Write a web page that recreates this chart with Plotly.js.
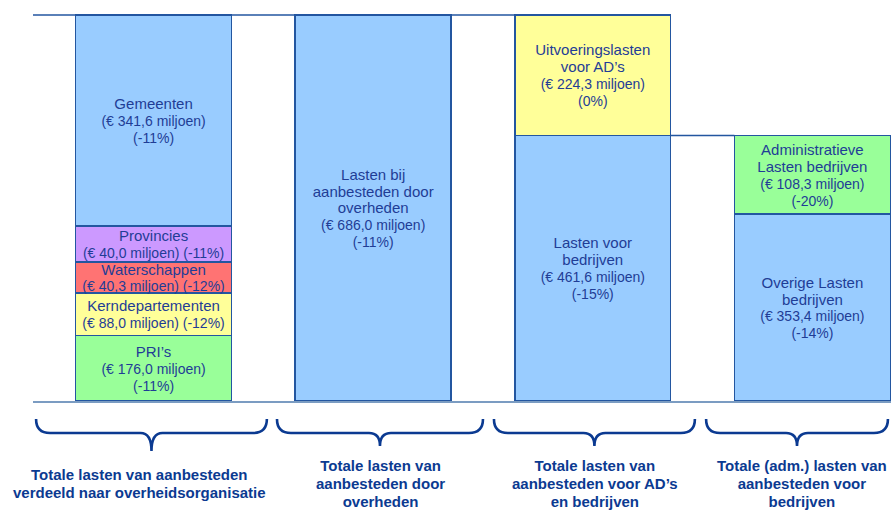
<!DOCTYPE html>
<html>
<head>
<meta charset="utf-8">
<script src="https://cdn.plot.ly/plotly-3.0.1.min.js"></script>
<style>
html,body{margin:0;padding:0;background:#ffffff;}
#chart{width:892px;height:511px;}
</style>
</head>
<body>
<div id="chart"></div>
<script>
// ---------------- data ----------------
const columns = [0, 1, 2, 3];
const groupLabels = [
  "Totale lasten van aanbesteden<br>verdeeld naar overheidsorganisatie",
  "Totale lasten van<br>aanbesteden door<br>overheden",
  "Totale lasten van<br>aanbesteden voor AD’s<br>en bedrijven",
  "Totale (adm.) lasten van<br>aanbesteden voor<br>bedrijven"
];
const segColumn = [0, 0, 0, 0, 0, 1, 2, 2, 3, 3];
const segName = [
  "PRI’s", "Kerndepartementen", "Waterschappen", "Provincies", "Gemeenten",
  "Lasten bij<br>aanbesteden door<br>overheden",
  "Lasten voor<br>bedrijven", "Uitvoeringslasten<br>voor AD’s",
  "Overige Lasten<br>bedrijven", "Administratieve<br>Lasten bedrijven"
];
const segAmount = ["176,0", "88,0", "40,3", "40,0", "341,6", "686,0", "461,6", "224,3", "353,4", "108,3"];
const segChange = ["-11%", "-12%", "-12%", "-11%", "-11%", "-11%", "-15%", "0%", "-14%", "-20%"];
// segment heights as drawn in the picture (€ miljoen scale, total = 686)
const segHeight = [116.7, 75.2, 55.0, 64.4, 374.7, 686.0, 471.5, 214.5, 332.1, 139.4];
const segChangeInline = [false, true, true, true, false, false, false, false, false, false];

// ---------------- style ----------------
const segColor = ["#99FF99", "#FFFF99", "#FF7373", "#CC99FF", "#99CCFF",
                  "#99CCFF", "#99CCFF", "#FFFF99", "#99CCFF", "#99FF99"];
const FONT = "Liberation Sans, Arial, sans-serif";
const TEXT_BLUE = "#1f3d96";
const LABEL_BLUE = "#0b3a91";
const EDGE = "#2356a0";
const BAR_W = 0.71;
const X_RANGE = [-0.549, 3.358];
const Y_RANGE = [0, 700];
const M = {l: 33, r: 1, t: 7, b: 110};
const PLOT_W = 892 - M.l - M.r, PLOT_H = 511 - M.t - M.b;

function spanLines(txt, size) {
  return txt.split("<br>").map(s => `<span style="font-size:${size}px">${s}</span>`).join("<br>");
}

const traces = segName.map((name, i) => {
  const amt = `(€ ${segAmount[i]} miljoen)` + (segChangeInline[i] ? " " : "<br>") + `(${segChange[i]})`;
  return {
    type: "bar",
    x: [columns[segColumn[i]]],
    y: [segHeight[i]],
    width: BAR_W,
    marker: {color: segColor[i], line: {color: EDGE, width: 1.5}},
    text: [spanLines(name, 15) + "<br>" + spanLines(amt, 14)],
    textposition: "inside",
    insidetextanchor: "middle",
    textangle: 0,
    constraintext: "none",
    insidetextfont: {family: FONT, size: 13, color: TEXT_BLUE},
    hoverinfo: "skip",
    cliponaxis: false
  };
});

// totals for connector lines
const colTotal = columns.map(c => segHeight.reduce((s, h, i) => s + (segColumn[i] === c ? h : 0), 0));
const col3Base = segHeight[segColumn.indexOf(2)];

// helpers data -> paper
const xp = x => (x - X_RANGE[0]) / (X_RANGE[1] - X_RANGE[0]);
const yPix = py => (M.t + PLOT_H - py) / PLOT_H; // pixel y (from top) -> paper

// brace extents in x data units (layout)
const braces = [[-0.535, 0.516, 451], [0.562, 1.50, 446], [1.55, 2.465, 446], [2.516, 3.344, 446]];
const labelX = [-0.062, 1.035, 2.012, 2.955];

function bracePath(xa, xb, tipPy) {
  const x0 = xp(xa), x1 = xp(xb), xt = (x0 + x1) / 2;
  const rx = 14 / PLOT_W, rt = 11 / PLOT_W;
  const yEnd = yPix(419), yArm = yPix(433), yTip = yPix(tipPy);
  return `M${x0},${yEnd} Q${x0},${yArm} ${x0 + rx},${yArm} L${xt - rt},${yArm} ` +
         `Q${xt},${yArm} ${xt},${yTip} Q${xt},${yArm} ${xt + rt},${yArm} ` +
         `L${x1 - rx},${yArm} Q${x1},${yArm} ${x1},${yEnd}`;
}

const shapes = [
  {type: "line", xref: "x", yref: "y", x0: X_RANGE[0], x1: columns[2] - BAR_W / 2,
   y0: colTotal[0], y1: colTotal[0], line: {color: EDGE, width: 1.5}, layer: "above"},
  {type: "line", xref: "x", yref: "y", x0: columns[2] + BAR_W / 2, x1: columns[3] - BAR_W / 2,
   y0: col3Base, y1: col3Base, line: {color: EDGE, width: 1.5}, layer: "above"}
].concat(braces.map(b => ({
  type: "path", xref: "paper", yref: "paper", path: bracePath(b[0], b[1], b[2]),
  line: {color: LABEL_BLUE, width: 2.6}, fillcolor: "rgba(0,0,0,0)", layer: "above"
})));

const annotations = groupLabels.map((t, i) => ({
  xref: "paper", yref: "paper", x: xp(labelX[i]), y: yPix(484),
  xanchor: "center", yanchor: "middle", showarrow: false, align: "center",
  text: spanLines(t, 15),
  font: {family: FONT, size: 14, color: LABEL_BLUE, weight: "bold"}
}));

const layout = {
  width: 892, height: 511,
  margin: M,
  paper_bgcolor: "#ffffff", plot_bgcolor: "#ffffff",
  barmode: "stack",
  showlegend: false,
  font: {family: FONT, color: TEXT_BLUE},
  xaxis: {type: "linear", range: X_RANGE, showline: true, linecolor: "#7b9cc2", linewidth: 2,
          showticklabels: false, ticks: "", showgrid: false, zeroline: false, layer: "below traces", fixedrange: true},
  yaxis: {range: Y_RANGE, visible: false, showgrid: false, zeroline: false, fixedrange: true},
  shapes: shapes,
  annotations: annotations
};

Plotly.newPlot("chart", traces, layout, {displayModeBar: false, staticPlot: true});
</script>
</body>
</html>
